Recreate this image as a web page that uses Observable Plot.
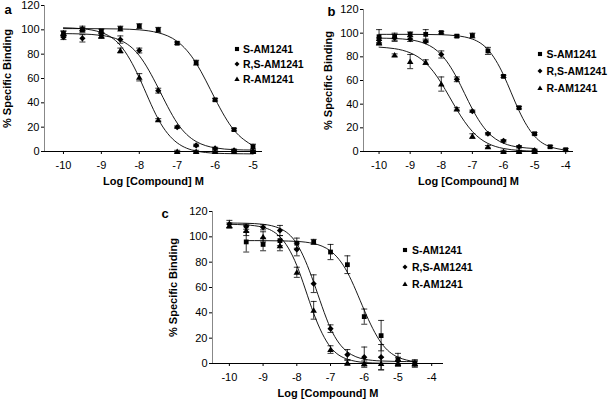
<!DOCTYPE html>
<html><head><meta charset="utf-8">
<script src="https://cdn.jsdelivr.net/npm/d3@7"></script>
<script src="https://cdn.jsdelivr.net/npm/@observablehq/plot@0.6"></script>
<style>
html,body{margin:0;padding:0;background:#fff;}
#root{position:relative;width:609px;height:403px;overflow:hidden;font-family:"Liberation Sans",Arial,Helvetica,sans-serif;}
.panel{position:absolute;}
.leg{position:absolute;font-weight:bold;font-size:10.5px;line-height:12px;height:12px;white-space:nowrap;display:flex;align-items:center;color:#000;}
.leg svg{display:block;flex:none;}
</style></head><body><div id="root"></div>
<script>
// ---------- data ----------
const seriesNames = ["S-AM1241", "R,S-AM1241", "R-AM1241"];
const panelLabels = ["a", "b", "c"];
const yTicks = [0, 20, 40, 60, 80, 100, 120];
const aXTicks = [-10, -9, -8, -7, -6, -5];
const bXTicks = [-10, -9, -8, -7, -6, -5, -4];
const cXTicks = [-10, -9, -8, -7, -6, -5, -4];
const xTitle = "Log [Compound] M";
const yTitle = "% Specific Binding";

// panel a (measured points, +/- error)
const aX    = [-10, -9.5, -9, -8.5, -8, -7.5, -7, -6.5, -6, -5.5, -5];
const aS    = [97, 100, 99, 101, 103, 100, 89, 73, 42.5, 18, 4];
const aSE   = [2, 2, 1.5, 2, 2, 2, 1, 2, 1, 1, 2];
const aRS   = [94, 93, 95.5, 92, 83, 50, 20, 5, 2.5, 1, 0];
const aRSE  = [2, 3, 2, 3, 2, 2, 1, 1, 1, 1, 1];
const aR    = [97, 101, 95, 83, 61, 26, 0, 0, 0, 0, 0];
const aRE   = [2, 2, 2, 2, 3, 1, 1, 1, 1, 1, 1];
// panel a fitted curves
const aCX   = [-10, -9.5, -9, -8.5, -8, -7.5, -7, -6.5, -6, -5.5, -5];
const aSC   = [101.0, 101.0, 100.9, 100.7, 100.0, 97.6, 90.5, 72.6, 43.3, 17.5, 4.7];
const aRSC  = [96.9, 96.6, 95.4, 91.4, 78.8, 52.2, 23.4, 8.2, 3.0, 1.5, 1.2];
const aRC   = [101.7, 100.9, 97.8, 87.2, 60.6, 26.6, 7.1, 0.4, -1.4, -1.8, -1.95];

// panel b
const bSX   = [-10, -9.5, -9, -8.5, -8, -7.5, -7, -6.5, -6, -5.5, -5, -4.5, -4];
const bS    = [97, 97, 99, 99, 100.5, 97.5, 98, 85, 63.5, 37, 15, 4, 1.5];
const bSE   = [6, 3, 2, 4, 1, 1, 2, 3, 1, 1, 1, 1, 1];
const bX    = [-10, -9.5, -9, -8.5, -8, -7.5, -7, -6.5, -6, -5.5, -5];
const bRS   = [94, 96, 95, 93, 82, 61, 34, 15, 9, 4, 1];
const bRSE  = [2, 3, 2, 1, 3, 2, 1, 1, 1, 1, 1];
const bR    = [92, 81.5, 76, 75.5, 57, 36, 13, 4, 0, 0, 0];
const bRE   = [2, 1, 6, 2, 6, 1, 2, 1, 1, 1, 1];
const bSCX  = [-10, -9.5, -9, -8.5, -8, -7.5, -7, -6.5, -6, -5.5, -5, -4.5, -4];
const bSC   = [99.0, 99.0, 99.0, 98.9, 98.7, 97.8, 95.0, 86.1, 64.7, 34.4, 12.9, 4.0, 1.2];
const bCX   = [-10, -9.5, -9, -8.5, -8, -7.5, -7, -6.5, -6, -5.5, -5];
const bRSC  = [95.8, 95.5, 94.4, 91.0, 81.8, 62.2, 35.8, 16.2, 7.0, 3.65, 2.5];
const bRC   = [88.2, 86.9, 83.4, 74.8, 57.9, 35.4, 16.9, 6.8, 2.55, 0.9, 0.3];

// panel c
const cSX   = [-9.5, -9, -8.5, -8, -7.5, -7, -6.5, -6, -5.5, -5, -4.5];
const cS    = [96, 94, 97, 95, 96, 88, 78, 37, 22, 3, 0];
const cSE   = [8, 5, 4, 4, 2, 6, 7, 6, 12, 5, 3];
const cX    = [-10, -9.5, -9, -8.5, -8, -7.5, -7, -6.5, -6, -5.5, -5, -4.5];
const cRS   = [110, 108, 107.5, 105, 90, 63, 27.5, 7, 5, 5, 2, 0];
const cRSE  = [3, 2, 2, 4, 5, 7, 3, 4, 8, 10, 3, 2];
const cR    = [109, 105, 100, 93, 72, 42, 11, 0.5, 0, 0, 0, 0];
const cRE   = [2, 4, 4, 4, 4, 7, 3, 2, 2, 5, 2, 2];
const cSC   = [97.0, 97.0, 96.8, 96.4, 94.7, 88.8, 72.0, 42.1, 16.4, 5.0, 1.4];
const cRSC  = [110.9, 110.7, 109.9, 106.6, 94.5, 64.1, 27.8, 9.2, 3.4, 2.0, 1.6, 1.5];
const cRC   = [109.9, 109.4, 107.5, 100.0, 77.4, 39.6, 12.9, 3.4, 0.8, 0.2, 0.0, 0.0];

// ---------- symbols ----------
const squareSym = d3.symbolSquare;
const diamondSym = {draw(ctx, size) { const h = Math.sqrt(size / Math.PI) * 1.15;
  ctx.moveTo(0, -h); ctx.lineTo(h, 0); ctx.lineTo(0, h); ctx.lineTo(-h, 0); ctx.closePath(); }};
const triangleSym = {draw(ctx, size) { const h = Math.sqrt(size / Math.PI) * 1.25;
  ctx.moveTo(0, -h); ctx.lineTo(h * 1.05, h * 0.8); ctx.lineTo(-h * 1.05, h * 0.8); ctx.closePath(); }};
const capSym = {draw(ctx, size) { const w = Math.sqrt(size / Math.PI);
  ctx.moveTo(-w, 0); ctx.lineTo(w, 0); }};
const symbols = [squareSym, diamondSym, triangleSym];
const markerR = [2.7, 2.7, 2.5];
const legendSize = [17, 15, 13];

const table = (xs, ys, es) => xs.map((x, i) => ({x, y: ys[i], e: es ? es[i] : 0}));

const FONT = '"Liberation Sans", Arial, Helvetica, sans-serif';
const root = document.getElementById("root");

function makePanel(cfg) {
  const marks = [
    Plot.ruleY([0], {stroke: "#000", strokeWidth: 1}),
    Plot.ruleX([cfg.xDomain[0]], {stroke: "#888", strokeWidth: 1})
  ];
  cfg.points.forEach((pts, i) => {
    const withErr = pts.filter(d => d.e > 0);
    marks.push(Plot.ruleX(withErr, {x: "x", y1: d => d.y - d.e, y2: d => d.y + d.e, stroke: "#000", strokeWidth: 0.8}));
    marks.push(Plot.dot(withErr, {x: "x", y: d => d.y + d.e, symbol: capSym, r: 3, fill: "none", stroke: "#000", strokeWidth: 0.8}));
    marks.push(Plot.dot(withErr, {x: "x", y: d => d.y - d.e, symbol: capSym, r: 3, fill: "none", stroke: "#000", strokeWidth: 0.8}));
  });
  cfg.curves.forEach(c => {
    marks.push(Plot.line(c, {x: "x", y: "y", curve: "natural", stroke: "#000", strokeWidth: 0.9}));
  });
  cfg.points.forEach((pts, i) => {
    marks.push(Plot.dot(pts, {x: "x", y: "y", symbol: symbols[i], r: markerR[i], fill: "#000", stroke: "none"}));
  });
  marks.push(Plot.text([xTitle], {frameAnchor: "bottom", dy: 33, textAnchor: "middle", fontWeight: "bold", fontSize: 11, fill: "#000"}));
  marks.push(Plot.text([yTitle], {frameAnchor: "left", dx: cfg.yTitleDx, rotate: -90, textAnchor: "middle", lineAnchor: "middle", fontWeight: "bold", fontSize: 11, fill: "#000"}));
  marks.push(Plot.text([cfg.letter], {frameAnchor: "top-left", dx: cfg.letterDx, dy: cfg.letterDy, textAnchor: "start", lineAnchor: "middle", fontWeight: "bold", fontSize: 13, fill: "#000"}));

  const svg = Plot.plot({
    width: cfg.width, height: cfg.height,
    marginLeft: cfg.ml, marginRight: cfg.mr, marginTop: cfg.mt, marginBottom: cfg.mb,
    style: {fontFamily: FONT, fontSize: "11px", background: "transparent", color: "#000"},
    x: {domain: cfg.xDomain, ticks: cfg.xTicks, tickSize: 3, tickPadding: 7, tickFormat: d => String(d), label: null},
    y: {domain: [0, 120], ticks: yTicks, tickSize: 3, tickPadding: 2, tickFormat: d => String(d), label: null},
    marks
  });
  const wrap = document.createElement("div");
  wrap.className = "panel";
  wrap.style.left = cfg.left + "px";
  wrap.style.top = cfg.top + "px";
  wrap.appendChild(svg);
  root.appendChild(wrap);

  // legend
  seriesNames.forEach((name, i) => {
    const item = document.createElement("div");
    item.className = "leg";
    item.style.left = (cfg.legX - 4) + "px";
    item.style.top = (cfg.legY[i] - 6) + "px";
    const path = d3.symbol(symbols[i], legendSize[i])();
    item.innerHTML = `<svg width="8" height="8" viewBox="-4 -4 8 8"><path d="${path}" fill="#000"/></svg>` +
      `<span style="margin-left:${cfg.legGap}px">${name}</span>`;
    root.appendChild(item);
  });
}

makePanel({
  letter: panelLabels[0], left: 0, top: 0, width: 300, height: 190,
  ml: 44, mr: 38, mt: 5, mb: 39, xDomain: [-10.5, -4.75], xTicks: aXTicks,
  yTitleDx: -37, letterDx: -40, letterDy: 4,
  points: [table(aX, aS, aSE), table(aX, aRS, aRSE), table(aX, aR, aRE)],
  curves: [table(aCX, aSC), table(aCX, aRSC), table(aCX, aRC)],
  legX: 236.5, legGap: 2.5, legY: [49, 64, 79]
});
makePanel({
  letter: panelLabels[1], left: 300, top: 0, width: 309, height: 190,
  ml: 63, mr: 36, mt: 9, mb: 39, xDomain: [-10.5, -3.75], xTicks: bXTicks,
  yTitleDx: -35, letterDx: -36, letterDy: 2,
  points: [table(bSX, bS, bSE), table(bX, bRS, bRSE), table(bX, bR, bRE)],
  curves: [table(bSCX, bSC), table(bCX, bRSC), table(bCX, bRC)],
  legX: 540, legGap: 2.5, legY: [54, 71, 88]
});
makePanel({
  letter: panelLabels[2], left: 150, top: 195, width: 310, height: 208,
  ml: 62, mr: 17, mt: 16, mb: 40, xDomain: [-10.5, -3.65], xTicks: cXTicks,
  yTitleDx: -39, letterDx: -51, letterDy: 2,
  points: [table(cSX, cS, cSE), table(cX, cRS, cRSE), table(cX, cR, cRE)],
  curves: [table(cSX, cSC), table(cX, cRSC), table(cX, cRC)],
  legX: 405, legGap: 3, legY: [250, 267, 284]
});
</script></body></html>
